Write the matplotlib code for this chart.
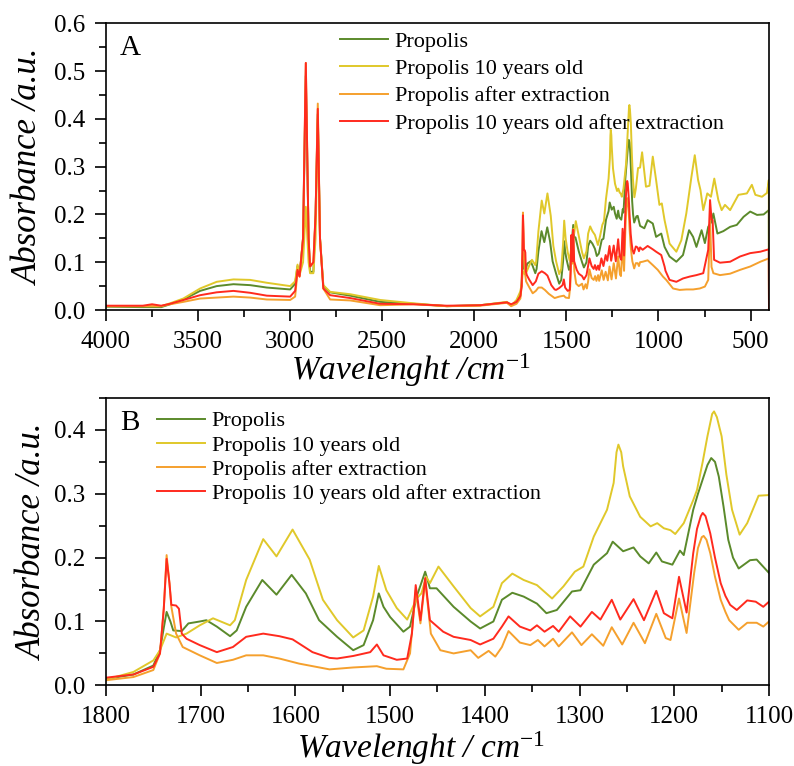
import matplotlib
matplotlib.use("Agg")
import matplotlib.pyplot as plt
from matplotlib.ticker import MultipleLocator

plt.rcParams['font.family'] = ['Liberation Serif', 'DejaVu Serif']
plt.rcParams['mathtext.fontset'] = 'custom'
plt.rcParams['mathtext.rm'] = 'Liberation Serif'
plt.rcParams['mathtext.it'] = 'Liberation Serif:italic'

labels = ['Propolis', 'Propolis 10 years old', 'Propolis after extraction',
          'Propolis 10 years old after extraction']
colors = ['#5b8a2b', '#e0c82a', '#f5a02d', '#ff2a1e']

# wavenumber (cm-1) and absorbance
wn_green = [4000, 3800, 3700, 3652, 3580, 3489, 3399, 3308, 3217, 3127, 3000, 2973, 2960, 2949, 2930,
            2915, 2900, 2892, 2874, 2862, 2850, 2838, 2820, 2783, 2674, 2511, 2330, 2149, 1968, 1823,
            1800, 1771, 1750, 1743, 1739, 1736, 1732, 1729, 1720, 1713, 1701, 1694, 1683, 1669, 1662, 1652, 1635,
            1620, 1604, 1589, 1575, 1556, 1539, 1528, 1518, 1512, 1507, 1500, 1486, 1479, 1472, 1463,
            1458, 1451, 1433, 1415, 1405, 1391, 1382, 1371, 1359, 1345, 1335, 1324, 1308, 1299, 1285,
            1271, 1265, 1254, 1243, 1236, 1227, 1219, 1213, 1202, 1194, 1190, 1180, 1175, 1169, 1165, 1161, 1157, 1153,
            1148, 1143, 1138, 1132, 1120, 1113, 1100, 1077, 1059, 1031, 1013, 985, 967, 940, 903, 867, 834,
            812, 794, 766, 748, 730, 712, 702, 680, 648, 611, 575, 538, 502, 465, 429, 401, 400]
ab_green = [0.007, 0.006, 0.006, 0.012, 0.022, 0.040, 0.050, 0.054, 0.052, 0.047, 0.043, 0.055, 0.092, 0.073, 0.15,
            0.49, 0.15, 0.080, 0.080, 0.20, 0.41, 0.15, 0.050, 0.037, 0.030, 0.017, 0.013, 0.008, 0.010, 0.016,
            0.010, 0.017, 0.031, 0.055, 0.090, 0.115, 0.100, 0.086, 0.085, 0.097, 0.100, 0.102, 0.092, 0.077, 0.086, 0.123, 0.165,
            0.142, 0.173, 0.144, 0.102, 0.076, 0.055, 0.063, 0.102, 0.144, 0.123, 0.107, 0.084, 0.092, 0.139, 0.178,
            0.152, 0.152, 0.123, 0.100, 0.089, 0.100, 0.134, 0.145, 0.139, 0.128, 0.113, 0.118, 0.147, 0.149, 0.189,
            0.207, 0.225, 0.210, 0.216, 0.202, 0.191, 0.208, 0.194, 0.189, 0.211, 0.204, 0.275, 0.300, 0.327, 0.345, 0.356, 0.350, 0.327,
            0.280, 0.228, 0.200, 0.183, 0.196, 0.197, 0.176, 0.171, 0.188, 0.181, 0.153, 0.160, 0.132, 0.112, 0.101, 0.115, 0.167,
            0.153, 0.132, 0.167, 0.140, 0.174, 0.185, 0.202, 0.160, 0.165, 0.174, 0.178, 0.195, 0.206, 0.199, 0.200, 0.209, 0.0]

wn_yellow = [4000, 3800, 3700, 3652, 3580, 3489, 3399, 3308, 3217, 3127, 3000, 2973, 2960, 2949, 2930,
             2915, 2900, 2892, 2874, 2862, 2850, 2838, 2820, 2783, 2674, 2511, 2330, 2149, 1968, 1823,
             1800, 1771, 1750, 1743, 1736, 1726, 1715, 1701, 1687, 1669, 1664, 1652, 1634, 1620, 1603,
             1585, 1571, 1556, 1539, 1528, 1518, 1512, 1504, 1493, 1482, 1472, 1467, 1462, 1458, 1449,
             1433, 1415, 1405, 1391, 1382, 1371, 1359, 1345, 1329, 1317, 1305, 1296, 1285, 1271, 1264,
             1261, 1259, 1256, 1254, 1247, 1236, 1225, 1218, 1211, 1204, 1199, 1190, 1180, 1176, 1170, 1165,
             1160, 1158, 1155, 1150, 1145, 1139,
             1131, 1123, 1111, 1100, 1089, 1068, 1049, 1031, 1013, 995, 982, 967, 940, 903, 876,
             849, 821, 803, 785, 772, 757, 735, 715, 697, 675, 657, 639, 611, 566, 520,
             493, 474, 438, 411, 401, 400]
ab_yellow = [0.008, 0.008, 0.008, 0.014, 0.024, 0.045, 0.059, 0.064, 0.063, 0.057, 0.050, 0.060, 0.095, 0.073, 0.10,
             0.216, 0.10, 0.077, 0.077, 0.15, 0.40, 0.15, 0.052, 0.038, 0.033, 0.021, 0.014, 0.008, 0.010, 0.017,
             0.009, 0.021, 0.039, 0.055, 0.081, 0.075, 0.081, 0.094, 0.105, 0.094, 0.102, 0.165, 0.229, 0.202, 0.244,
             0.197, 0.134, 0.102, 0.075, 0.086, 0.139, 0.187, 0.149, 0.121, 0.103, 0.136, 0.144, 0.170, 0.160, 0.186,
             0.155, 0.121, 0.108, 0.123, 0.160, 0.175, 0.165, 0.157, 0.136, 0.155, 0.178, 0.186, 0.233, 0.275, 0.317,
             0.365, 0.377, 0.365, 0.343, 0.296, 0.264, 0.249, 0.254, 0.246, 0.243, 0.237, 0.254, 0.290, 0.306, 0.350, 0.390,
             0.425, 0.429, 0.420, 0.390, 0.330, 0.275,
             0.236, 0.254, 0.297, 0.298, 0.330, 0.258, 0.260, 0.321, 0.272, 0.220, 0.223, 0.188, 0.139, 0.122, 0.146,
             0.202, 0.279, 0.324, 0.272, 0.251, 0.209, 0.244, 0.237, 0.275, 0.230, 0.209, 0.220, 0.209, 0.241, 0.244,
             0.262, 0.241, 0.237, 0.245, 0.272, 0.0]

wn_orange = [4000, 3800, 3700, 3652, 3580, 3489, 3399, 3308, 3217, 3127, 3000, 2973, 2960, 2949, 2930,
             2915, 2900, 2892, 2874, 2862, 2850, 2838, 2820, 2783, 2674, 2511, 2330, 2149, 1968, 1823,
             1800, 1771, 1750, 1743, 1739, 1736, 1733, 1731, 1726, 1719, 1701, 1683, 1666, 1652, 1634, 1617, 1596,
             1564, 1539, 1514, 1504, 1486, 1479, 1473, 1468, 1463, 1457, 1447, 1433, 1415, 1407, 1396,
             1389, 1382, 1375, 1363, 1352, 1344, 1337, 1328, 1322, 1308, 1298, 1287, 1275, 1266, 1255,
             1243, 1231, 1219, 1209, 1204, 1195, 1187, 1179, 1175, 1171, 1169, 1166, 1162, 1157, 1151, 1146, 1142, 1132, 1123, 1113,
             1106, 1100, 1086, 1059, 1031, 1004, 976, 958, 921, 885, 849, 812, 776, 748, 730,
             720, 712, 702, 666, 611, 557, 502, 447, 401, 400]
ab_orange = [0.008, 0.008, 0.008, 0.012, 0.017, 0.024, 0.026, 0.028, 0.026, 0.022, 0.021, 0.028, 0.080, 0.070, 0.15,
             0.517, 0.15, 0.090, 0.100, 0.20, 0.432, 0.15, 0.045, 0.022, 0.020, 0.010, 0.012, 0.008, 0.009, 0.015,
             0.008, 0.013, 0.024, 0.050, 0.120, 0.204, 0.160, 0.123, 0.081, 0.060, 0.047, 0.035, 0.040, 0.047, 0.047, 0.042, 0.034,
             0.025, 0.028, 0.030, 0.026, 0.025, 0.050, 0.149, 0.097, 0.165, 0.081, 0.055, 0.050, 0.055, 0.043, 0.054,
             0.045, 0.060, 0.085, 0.067, 0.063, 0.071, 0.061, 0.073, 0.061, 0.083, 0.063, 0.080, 0.062, 0.091, 0.064,
             0.098, 0.066, 0.112, 0.074, 0.071, 0.136, 0.082, 0.176, 0.215, 0.232, 0.234, 0.228, 0.207, 0.170, 0.134, 0.115, 0.102, 0.087, 0.098, 0.098,
             0.092, 0.100, 0.101, 0.104, 0.094, 0.084, 0.070, 0.063, 0.045, 0.042, 0.043, 0.043, 0.045, 0.049, 0.063,
             0.190, 0.090, 0.077, 0.073, 0.076, 0.084, 0.091, 0.101, 0.108, 0.0]

wn_red = [4000, 3800, 3750, 3700, 3652, 3580, 3489, 3399, 3308, 3217, 3127, 3000, 2973, 2960, 2949,
          2930, 2915, 2900, 2892, 2874, 2862, 2850, 2838, 2820, 2783, 2674, 2511, 2330, 2149, 1968,
          1823, 1800, 1771, 1750, 1743, 1739, 1736, 1733, 1731, 1726, 1723, 1720, 1715, 1701, 1683, 1666, 1652,
          1634, 1617, 1603, 1582, 1564, 1556, 1539, 1521, 1514, 1507, 1493, 1482, 1477, 1473, 1468,
          1463, 1458, 1444, 1433, 1415, 1405, 1391, 1382, 1375, 1363, 1352, 1345, 1337, 1328, 1322,
          1310, 1299, 1287, 1278, 1266, 1257, 1243, 1232, 1219, 1211, 1202, 1195, 1187, 1180, 1176, 1172, 1170,
          1167, 1162, 1157, 1151, 1146, 1141, 1134, 1123, 1114, 1106, 1100, 1086, 1059, 1031, 1013, 985, 967, 962,
          940, 903, 867, 830, 794, 757, 730, 720, 712, 706, 698, 666, 611, 557, 502,
          447, 401, 400]
ab_red = [0.009, 0.009, 0.012, 0.009, 0.013, 0.021, 0.031, 0.037, 0.040, 0.036, 0.030, 0.028, 0.040, 0.084, 0.070,
          0.15, 0.517, 0.15, 0.091, 0.100, 0.20, 0.421, 0.15, 0.045, 0.031, 0.025, 0.013, 0.012, 0.009, 0.010,
          0.016, 0.012, 0.017, 0.029, 0.050, 0.120, 0.198, 0.160, 0.126, 0.125, 0.120, 0.081, 0.073, 0.063, 0.052, 0.060, 0.076,
          0.081, 0.077, 0.072, 0.052, 0.043, 0.042, 0.046, 0.052, 0.064, 0.047, 0.040, 0.042, 0.081, 0.157, 0.102,
          0.168, 0.102, 0.084, 0.076, 0.071, 0.064, 0.073, 0.092, 0.108, 0.092, 0.086, 0.094, 0.084, 0.093, 0.084,
          0.108, 0.092, 0.115, 0.103, 0.134, 0.103, 0.135, 0.102, 0.148, 0.113, 0.105, 0.170, 0.114, 0.207, 0.245, 0.265, 0.270,
          0.265, 0.238, 0.200, 0.160, 0.140, 0.126, 0.118, 0.133, 0.131, 0.123, 0.131, 0.126, 0.134, 0.127, 0.122, 0.115, 0.091, 0.082,
          0.063, 0.059, 0.066, 0.070, 0.073, 0.077, 0.126, 0.230, 0.190, 0.188, 0.105, 0.099, 0.101, 0.112, 0.119,
          0.122, 0.127, 0.0]

series = [(wn_green, ab_green), (wn_yellow, ab_yellow), (wn_orange, ab_orange), (wn_red, ab_red)]

fig = plt.figure(figsize=(7.94, 7.66), dpi=100)
axA = fig.add_axes([0.1335, 0.5953, 0.835, 0.3743])
axB = fig.add_axes([0.1335, 0.1053, 0.835, 0.3751])

for ax in (axA, axB):
    for (wn, ab), c, lab in zip(series, colors, labels):
        ax.plot(wn, ab, color=c, lw=1.4, label=lab)
    ax.tick_params(which='both', direction='out', top=False, right=False, labelsize=18, width=1.2)
    ax.tick_params(which='major', length=8)
    ax.tick_params(which='minor', length=5)
    ax.tick_params(axis='x', pad=7)
    ax.tick_params(axis='y', pad=7)
    for sp in ax.spines.values():
        sp.set_linewidth(1.2)

axA.set_xlim(4000, 400)
axA.set_ylim(0, 0.6)
axA.xaxis.set_major_locator(MultipleLocator(500))
axA.xaxis.set_minor_locator(MultipleLocator(250))
axA.yaxis.set_major_locator(MultipleLocator(0.1))
axA.yaxis.set_minor_locator(MultipleLocator(0.05))
axA.yaxis.set_major_formatter(plt.FormatStrFormatter('%.1f'))
axA.set_ylabel('Absorbance /a.u.', fontsize=25, fontstyle='italic')
axA.set_xlabel(r'Wavelenght /cm$^{\mathit{-1}}$', fontsize=24, fontstyle='italic')
axA.yaxis.set_label_coords(-0.09, 0.5)
axA.xaxis.set_label_coords(0.46, -0.145)
axA.text(0.021, 0.915, 'A', transform=axA.transAxes, fontsize=21, va='center')
axA.legend(loc='upper left', bbox_to_anchor=(0.353, 0.972), frameon=False, fontsize=16,
           handlelength=2.16, handletextpad=0.3, labelspacing=0.3, borderpad=0, borderaxespad=0)

axB.set_xlim(1800, 1100)
axB.set_ylim(0, 0.45)
axB.xaxis.set_major_locator(MultipleLocator(100))
axB.xaxis.set_minor_locator(MultipleLocator(50))
axB.yaxis.set_major_locator(MultipleLocator(0.1))
axB.yaxis.set_minor_locator(MultipleLocator(0.05))
axB.yaxis.set_major_formatter(plt.FormatStrFormatter('%.1f'))
axB.set_ylabel('Absorbance /a.u.', fontsize=25, fontstyle='italic')
axB.set_xlabel(r'Wavelenght / cm$^{\mathit{-1}}$', fontsize=24, fontstyle='italic')
axB.yaxis.set_label_coords(-0.085, 0.5)
axB.xaxis.set_label_coords(0.475, -0.152)
axB.text(0.021, 0.913, 'B', transform=axB.transAxes, fontsize=21, va='center')
axB.legend(loc='upper left', bbox_to_anchor=(0.077, 0.955), frameon=False, fontsize=16,
           handlelength=2.16, handletextpad=0.3, labelspacing=0.16, borderpad=0, borderaxespad=0)

fig.savefig('out.png', dpi=100)
